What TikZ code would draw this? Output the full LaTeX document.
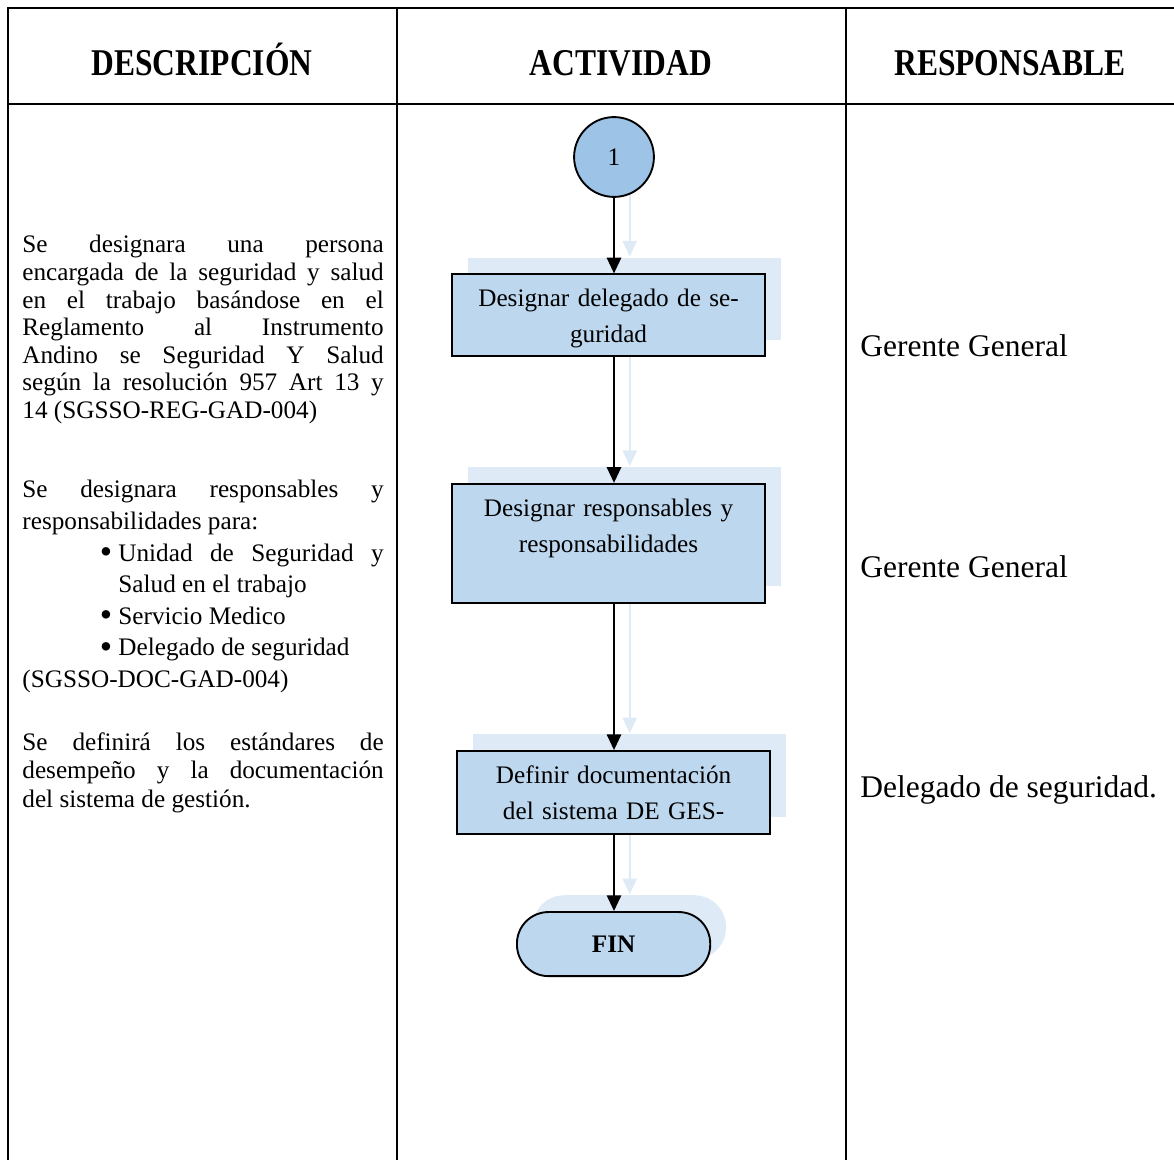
\documentclass[tikz,border=0pt]{standalone}
\usepackage{fontspec}
\setmainfont{Liberation Serif}
\usepackage{enumitem}
\usetikzlibrary{positioning, shadows, arrows.meta, backgrounds}
\definecolor{myblue}{RGB}{157,195,230}
\definecolor{mylightblue}{RGB}{189,215,238}
\definecolor{myshadow}{RGB}{222,235,247}
\newcommand{\headtext}[1]{\scalebox{1}[1.2]{#1}}
\newcommand{\bigbullet}{\raisebox{-1.4pt}{\scalebox{1.4}{\textbullet}}}

\begin{document}
\begin{tikzpicture}[
		x=0.476pt, y=-0.476pt,
		grid/.style={line width=1.3pt},
		head/.style={anchor=base, inner sep=0pt, font=\bfseries\fontsize{15}{18}\selectfont},
		desc/.style={anchor=base west, text width=172pt, align=justify, inner sep=0pt},
		resp/.style={anchor=base west, inner sep=0pt, font=\fontsize{15}{18}\selectfont},
		flowshadow/.style={drop shadow={shadow xshift=7.5pt, shadow yshift=8pt, fill=myshadow, opacity=1}},
		start/.style={circle, draw, line width=0.9pt, fill=myblue, minimum size=38pt, inner sep=0pt, font=\fontsize{12}{14}\selectfont},
		box/.style={rectangle, draw, line width=0.9pt, fill=mylightblue, text width=145pt, inner xsep=2pt, inner ysep=0pt, text height=15.5pt, align=center, font=\fontsize{12}{17}\selectfont, flowshadow},
		term/.style={rectangle, rounded corners=15pt, draw, line width=0.9pt, fill=mylightblue, minimum width=92pt, minimum height=30.5pt, font=\bfseries\fontsize{12}{14}\selectfont, flowshadow},
		arrow/.style={line width=1.2pt, -{Triangle[width=6.7pt, length=7.5pt]}},
		ghostarrow/.style={arrow, myshadow, transform canvas={xshift=7.5pt, yshift=8pt}}
		]
		
		\useasboundingbox (0,0) rectangle (1174,1160);
		
		% Table
		\draw[grid] (8,1160) -- (8,8) -- (1174,8);
		\draw[grid] (8,104) -- (1174,104);
		\draw[grid] (397,8) -- (397,1160);
		\draw[line width=0.9pt] (846,8) -- (846,1160);
		
		\node[head] (hdesc) at (202,76) {\headtext{DESCRIPCIÓN}};
		\node[head] (hact) at (621,76) {\headtext{ACTIVIDAD}};
		\node[head] (hresp) at (1010,76) {\headtext{RESPONSABLE}};
		
		% Description
		\node[desc, font=\fontsize{12}{13.1}\selectfont] (desc1) at (22,253) {%
			Se designara una persona\linebreak
			encargada de la seguridad y salud\linebreak
			en el trabajo basándose en el\linebreak
			Reglamento al Instrumento\linebreak
			Andino se Seguridad Y Salud\linebreak
			según la resolución 957 Art 13 y\linebreak
			14 (SGSSO-REG-GAD-004)};
		\node[desc, font=\fontsize{12}{15}\selectfont] (desc2) at (22,498) {%
			Se designara responsables y\linebreak
			responsabilidades para:
			\begin{itemize}[label=\bigbullet, leftmargin=45.7pt, labelsep=3pt, itemsep=0pt, topsep=0pt, parsep=0pt, partopsep=0pt]
				\item Unidad de Seguridad y\linebreak Salud en el trabajo
				\item Servicio Medico
				\item Delegado de seguridad
			\end{itemize}
			(SGSSO-DOC-GAD-004)};
		\node[desc, font=\fontsize{12}{13.8}\selectfont] (desc3) at (22,750) {%
			Se definirá los estándares de\linebreak
			desempeño y la documentación\linebreak
			del sistema de gestión.};
		
		% Flow
		\node[start] (start) at (614,157) {1};
		\node[box, text depth=23.5pt, below=36pt of start, xshift=-2.6pt] (deleg) {Designar delegado de se-\\guridad};
		\node[box, text depth=41pt, below=59.8pt of deleg] (resps) {Designar responsables y\\responsabilidades};
		\node[box, text depth=24pt, below=69.8pt of resps, xshift=2.4pt] (docs) {Definir documentación\\del sistema DE GES-};
		\node[term, below=36.2pt of docs] (fin) {FIN};
		
		% Arrows
		\begin{scope}[on background layer]
			\draw[ghostarrow] (start) -- (start |- deleg.north);
			\draw[ghostarrow] (deleg.south -| start) -- (resps.north -| start);
			\draw[ghostarrow] (resps.south -| start) -- (docs.north -| start);
			\draw[ghostarrow] (docs.south -| start) -- (fin.north -| start);
		\end{scope}
		\draw[arrow] (start) -- (start |- deleg.north);
		\draw[arrow] (deleg.south -| start) -- (resps.north -| start);
		\draw[arrow] (resps.south -| start) -- (docs.north -| start);
		\draw[arrow] (docs.south -| start) -- (fin.north -| start);
		
		% Responsible
		\node[resp] (resp1) at (860,357) {Gerente General};
		\node[resp] (resp2) at (860,578) {Gerente General};
		\node[resp] (resp3) at (860,797) {Delegado de seguridad.};
		
	\end{tikzpicture}
\end{document}
